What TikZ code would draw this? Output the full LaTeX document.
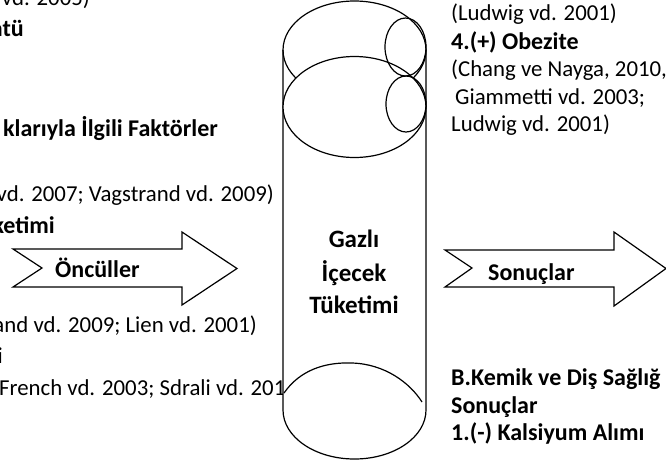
\documentclass[tikz,border=0pt]{standalone}
\usepackage{fontspec}
\setmainfont{Carlito}
\begin{document}
\begin{tikzpicture}[x=1pt,y=-1pt,
  txt/.style={inner sep=0pt,font=\fontsize{22.8}{27}\selectfont},
  btxt/.style={inner sep=0pt,font=\fontsize{24}{28}\selectfont\bfseries},
  ctxt/.style={inner sep=0pt,font=\fontsize{25}{29}\selectfont\bfseries},
  shapeline/.style={draw=black,line width=1.2pt,fill=white,line join=miter},
  cyl/.style={draw=black,line width=1.2pt}]
\clip (0,0) rectangle (666,461);
\useasboundingbox (0,0) rectangle (666,461);
% left texts
\node[txt,anchor=base east] (l1) at (90,5) {r vd. 2005)};
\node[btxt,anchor=base east] (l2) at (24,36) {atü};
\node[btxt,anchor=base east] (l3) at (218,136) {klarıyla İlgili Faktörler};
\node[txt,anchor=base east] (l4) at (274,201) {vd. 2007; Vagstrand vd. 2009)};
\node[btxt,anchor=base east] (l5) at (55,233) {ketimi};
\node[txt,anchor=base east] (l6) at (257,332) {and vd. 2009; Lien vd. 2001)};
\node[txt,anchor=base east] (l7) at (3,363) {i};
\node[txt,anchor=base west] (l8) at (-1,395) {French vd. 2003; Sdrali vd. 2010};
% right texts
\node[txt,anchor=base west] (r1) at (451,20) {(Ludwig vd. 2001)};
\node[btxt,anchor=base west] (r2) at (451,49) {4.(+) Obezite};
\node[txt,anchor=base west] (r3) at (451,76) {(Chang ve Nayga, 2010,};
\node[txt,anchor=base west] (r4) at (455,104) {Giammetti vd. 2003;};
\node[txt,anchor=base west] (r5) at (451,131) {Ludwig vd. 2001)};
\node[btxt,anchor=base west] (r6) at (451,385) {B.Kemik ve Diş Sağlığ};
\node[btxt,anchor=base west] (r7) at (451,413) {Sonuçlar};
\node[btxt,anchor=base west] (r8) at (451,440) {1.(-) Kalsiyum Alımı};
% arrows
\draw[shapeline] (13,249) -- (182,249) -- (182,232) -- (237,268.5) -- (182,305) -- (182,287) -- (13,287) -- (42,268) -- cycle;
\node[btxt,anchor=base west] (a1) at (55,277) {Öncüller};
\draw[shapeline] (445,250) -- (614,250) -- (614,232) -- (666,268.5) -- (614,306) -- (614,287) -- (445,287) -- (472,268) -- cycle;
\node[btxt,anchor=base west] (a2) at (488,280) {Sonuçlar};
% cylinder
\fill[white] (283,50) -- (283,410) arc[start angle=180,end angle=0,x radius=71.5,y radius=49] -- (426,50) arc[start angle=0,end angle=-180,x radius=71.5,y radius=49] -- cycle;
\draw[cyl] (283,50) -- (283,410) arc[start angle=180,end angle=0,x radius=71.5,y radius=49] -- (426,50);
\draw[cyl] (354.5,50) ellipse[x radius=71.5,y radius=49];
\draw[cyl,fill=white] (354.5,107) ellipse[x radius=71.5,y radius=50.5];
\draw[cyl] (405.5,47) ellipse[x radius=20.5,y radius=29];
\draw[cyl] (406,104) ellipse[x radius=20,y radius=28];
\draw[cyl] (284,393) .. controls (300,370) and (325,362) .. (352,363) .. controls (385,364) and (410,383) .. (422,402);
\node[ctxt,anchor=base] (g1) at (354,247) {Gazlı};
\node[ctxt,anchor=base] (g2) at (354,281) {İçecek};
\node[ctxt,anchor=base] (g3) at (354,313) {Tüketimi};
\end{tikzpicture}
\end{document}
